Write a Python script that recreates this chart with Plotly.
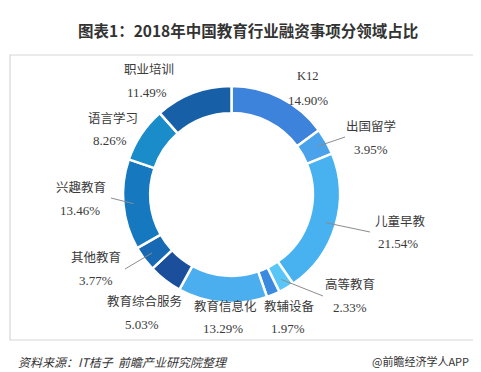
import math
import plotly.graph_objects as go

# ---- data ----
categories = ["K12", "出国留学", "儿童早教", "高等教育", "教辅设备", "教育信息化",
              "教育综合服务", "其他教育", "兴趣教育", "语言学习", "职业培训"]
shares = [14.90, 3.95, 21.54, 2.33, 1.97, 13.29, 5.03, 3.77, 13.46, 8.26, 11.49]

title_text = "图表1：2018年中国教育行业融资事项分领域占比"
source_text = "资料来源：IT桔子  前瞻产业研究院整理"
brand_text = "@前瞻经济学人APP"

# ---- style / layout ----
colors = ["#3d83dc", "#4aa3ea", "#48b1f0", "#58c6f6", "#3a8ae0", "#4baeee",
          "#1b4f9b", "#1869b4", "#1679c0", "#1a8cca", "#1760a8"]
W, H = 481, 372
CX, CY, R_OUT, HOLE = 223.5, 186.5, 108.5, 0.75
# label centers (name, pct) in pixels
label_pos = [((300, 68), (300, 92)), ((363, 119), (363, 141)), ((392, 213), (390, 235)),
             ((342, 276), (342, 299)), ((281, 298), (280, 320)), ((217, 298), (215, 320)),
             ((136, 293), (134, 316)), ((88, 250), (88, 272)), ((73, 179), (72, 203)),
             ((105, 111), (102, 132)), ((141, 62), (139, 84))]
# leader-line end points for selected slices
leader_end = {1: (337, 129), 2: (362, 224), 3: (315, 288), 7: (117, 261), 8: (103, 190)}

def px(x):
    return x / W

def py(y):
    return 1 - y / H

fig = go.Figure(go.Pie(
    labels=categories, values=shares, sort=False, direction="clockwise", rotation=0,
    hole=HOLE, textinfo="none", hoverinfo="label+percent",
    marker=dict(colors=colors, line=dict(color="white", width=2.5)),
    domain=dict(x=[px(CX - R_OUT), px(CX + R_OUT)], y=[py(CY + R_OUT), py(CY - R_OUT)]),
    showlegend=False,
))

lab_font = dict(family="Liberation Serif, Noto Sans CJK SC", size=12.5, color="#3a3a3a")
pct_font = dict(family="Liberation Serif, Noto Sans CJK SC", size=13, color="#3a3a3a")
annotations = []
for i, (name, val) in enumerate(zip(categories, shares)):
    (nx, ny), (qx, qy) = label_pos[i]
    annotations.append(dict(x=px(nx), y=py(ny), xref="paper", yref="paper", text=name,
                            showarrow=False, font=lab_font, xanchor="center", yanchor="middle"))
    annotations.append(dict(x=px(qx), y=py(qy), xref="paper", yref="paper", text=f"{val:.2f}%",
                            showarrow=False, font=pct_font, xanchor="center", yanchor="middle"))

annotations.append(dict(x=px(240), y=py(22), xref="paper", yref="paper", text="<b>" + title_text + "</b>",
                        showarrow=False, xanchor="center", yanchor="middle",
                        font=dict(family="Noto Sans CJK SC", size=15.5, color="#333333")))
annotations.append(dict(x=px(8), y=py(353), xref="paper", yref="paper", text="<i>" + source_text + "</i>",
                        showarrow=False, xanchor="left", yanchor="middle",
                        font=dict(family="Noto Sans CJK SC", size=12, color="#333333")))
annotations.append(dict(x=px(362), y=py(353), xref="paper", yref="paper", text=brand_text,
                        showarrow=False, xanchor="left", yanchor="middle",
                        font=dict(family="Noto Sans CJK SC", size=11, color="#333333")))

shapes = [dict(type="rect", xref="paper", yref="paper", x0=px(2), x1=px(475), y0=py(332), y1=py(47),
               line=dict(color="#d6d6d6", width=1.2), fillcolor="rgba(0,0,0,0)", layer="below")]
total = sum(shares)
cum = 0.0
for i, v in enumerate(shares):
    mid = (cum + v / 2) / total * 2 * math.pi
    cum += v
    if i in leader_end:
        r0 = R_OUT - 10
        sx, sy = CX + r0 * math.sin(mid), CY - r0 * math.cos(mid)
        ex, ey = leader_end[i]
        shapes.append(dict(type="line", xref="paper", yref="paper",
                           x0=px(sx), y0=py(sy), x1=px(ex), y1=py(ey),
                           line=dict(color="#8c8c8c", width=1)))

fig.update_layout(width=W, height=H, autosize=False, margin=dict(l=0, r=0, t=0, b=0),
                  paper_bgcolor="white", plot_bgcolor="white",
                  annotations=annotations, shapes=shapes)
fig.write_html("out.html")
